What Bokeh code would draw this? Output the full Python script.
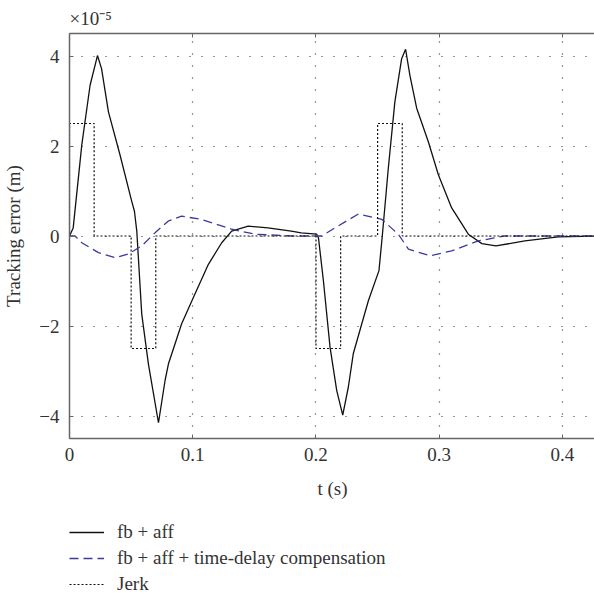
from bokeh.plotting import figure
from bokeh.layouts import column
from bokeh.models import (Range1d, FixedTicker, LinearAxis, Legend, LegendItem)
from bokeh.embed import file_html
from bokeh.resources import INLINE

# ---- data (values in units of 1e-5 m) ----
t_fb = [0.0, 0.003, 0.010, 0.0167, 0.0227, 0.026, 0.0316, 0.041, 0.0505, 0.0527,
        0.0546, 0.0586, 0.064, 0.0722, 0.0776, 0.0803, 0.091, 0.1006, 0.1127,
        0.1235, 0.1316, 0.145, 0.161, 0.180, 0.188, 0.2006,
        0.202, 0.206, 0.2114, 0.2168, 0.2217, 0.2263, 0.2303, 0.2425, 0.2511,
        0.2538, 0.2587, 0.264, 0.2695, 0.2727, 0.2762, 0.2817, 0.2911, 0.2993,
        0.31, 0.3236, 0.3346, 0.346, 0.3695, 0.3966, 0.427]
e_fb = [0.0, 0.18, 2.03, 3.35, 4.01, 3.72, 2.76, 1.8, 0.77, 0.55,
        0.11, -1.73, -2.84, -4.15, -3.2, -2.84, -1.95, -1.36, -0.63,
        -0.15, 0.11, 0.22, 0.18, 0.11, 0.07, 0.04,
        -0.04, -0.99, -2.47, -3.43, -3.98, -3.35, -2.61, -1.44, -0.77,
        0.0, 1.51, 2.98, 3.94, 4.15, 3.57, 2.84, 2.1, 1.36,
        0.63, 0.04, -0.17, -0.22, -0.11, -0.02, 0.0]

t_td = [0.0, 0.0045, 0.010, 0.0235, 0.037, 0.0478, 0.0586, 0.0694, 0.080, 0.091,
        0.107, 0.1316, 0.1505, 0.18, 0.2046, 0.2154, 0.2344, 0.2533, 0.2668,
        0.275, 0.2925, 0.31, 0.3317, 0.353, 0.427]
e_td = [0.0, 0.0, -0.15, -0.37, -0.48, -0.40, -0.22, 0.07, 0.33, 0.44,
        0.37, 0.15, 0.04, 0.0, 0.0, 0.18, 0.49, 0.37, 0.04,
        -0.29, -0.44, -0.33, -0.11, 0.0, 0.0]

t_jerk = [0.0, 0.0, 0.02, 0.02, 0.05, 0.05, 0.07, 0.07, 0.2, 0.2, 0.22, 0.22,
          0.25, 0.25, 0.27, 0.27, 0.427]
jerk = [0.0, 2.5, 2.5, 0.0, 0.0, -2.5, -2.5, 0.0, 0.0, -2.5, -2.5, 0.0,
        0.0, 2.5, 2.5, 0.0, 0.0]

x_ticks = [0, 0.1, 0.2, 0.3, 0.4]
y_ticks = [-4, -2, 0, 2, 4]
y_tick_labels = {-4: "\u22124", -2: "\u22122", 0: "0", 2: "2", 4: "4"}
x_tick_labels = {0: "0", 0.1: "0.1", 0.2: "0.2", 0.3: "0.3", 0.4: "0.4"}

labels = ["fb + aff", "fb + aff + time-delay compensation", "Jerk"]

FONT = "Liberation Serif"
TXT = "#333333"
AX = "#666666"
BLUE = "#3a3a9c"
FS = "19px"

STY_FB = dict(line_color="#111111", line_width=1.3)
STY_TD = dict(line_color=BLUE, line_width=1.3, line_dash="9 5")
STY_J = dict(line_color="#111111", line_width=1.2, line_dash="2 2")

p = figure(frame_width=526, frame_height=405, output_backend="svg", toolbar_location=None,
           x_range=Range1d(0, 0.4268), y_range=Range1d(-4.5, 4.5),
           min_border_left=68, min_border_right=0, min_border_top=32,
           min_border_bottom=74, title="\u00d710\u207b\u2075")
p.outline_line_color = None
p.background_fill_color = "white"
p.border_fill_color = "white"

p.title.text_font = FONT
p.title.text_font_size = "19px"
p.title.text_font_style = "normal"
p.title.text_color = TXT
p.title.align = "left"
p.title.offset = 0

p.xaxis.ticker = FixedTicker(ticks=x_ticks)
p.yaxis.ticker = FixedTicker(ticks=y_ticks)
p.xaxis.major_label_overrides = x_tick_labels
p.yaxis.major_label_overrides = y_tick_labels
p.xaxis.axis_label = "t (s)"
p.yaxis.axis_label = "Tracking error (m)"

for ax in (p.xaxis[0], p.yaxis[0]):
    ax.axis_line_color = AX
    ax.axis_line_width = 1.5
    ax.major_tick_in = 4
    ax.major_tick_out = 0
    ax.major_tick_line_color = AX
    ax.minor_tick_line_color = None
    ax.major_label_text_font = FONT
    ax.major_label_text_font_size = FS
    ax.major_label_text_color = TXT
    ax.axis_label_text_font = FONT
    ax.axis_label_text_font_size = FS
    ax.axis_label_text_font_style = "normal"
    ax.axis_label_text_color = TXT
p.xaxis.major_label_standoff = 9
p.xaxis.axis_label_standoff = 14
p.yaxis.major_label_standoff = 10
p.yaxis.axis_label_standoff = 12

top = LinearAxis(ticker=FixedTicker(ticks=x_ticks), major_label_text_font_size="1px",
                 major_label_text_alpha=0, major_label_standoff=0,
                 axis_line_color=AX, axis_line_width=1.5, major_tick_in=4,
                 major_tick_out=0, major_tick_line_color=AX,
                 minor_tick_line_color=None)
p.add_layout(top, "above")

p.xgrid.ticker = FixedTicker(ticks=x_ticks)
p.ygrid.ticker = FixedTicker(ticks=y_ticks)
for g in (p.xgrid[0], p.ygrid[0]):
    g.grid_line_color = "#333333"
    g.grid_line_dash = "1 11"
    g.grid_line_width = 1.2

p.line(t_fb, e_fb, **STY_FB)
p.line(t_td, e_td, **STY_TD)
p.line(t_jerk, jerk, **STY_J)

# ---- legend panel below the plot (same series, drawn outside its visible range) ----
lg = figure(width=594, height=85, output_backend="svg", toolbar_location=None,
            x_range=Range1d(10, 11), y_range=Range1d(10, 11),
            min_border_left=68, min_border_right=0, min_border_top=9,
            min_border_bottom=0)
lg.axis.visible = False
lg.grid.visible = False
lg.outline_line_color = None
lg.border_fill_color = "white"
l_fb = lg.line(t_fb, e_fb, **STY_FB)
l_td = lg.line(t_td, e_td, **STY_TD)
l_j = lg.line(t_jerk, jerk, **STY_J)

legend = Legend(items=[LegendItem(label=labels[0], renderers=[l_fb]),
                       LegendItem(label=labels[1], renderers=[l_td]),
                       LegendItem(label=labels[2], renderers=[l_j])],
                location="top_left", orientation="vertical",
                margin=0, padding=0, spacing=4,
                glyph_width=35, glyph_height=20, label_height=20, label_standoff=13,
                label_text_font=FONT, label_text_font_size=FS,
                label_text_color=TXT, border_line_color=None,
                background_fill_alpha=0)
lg.add_layout(legend, "center")

page = column(p, lg, spacing=0)
open("out.html", "w").write(file_html(page, INLINE))
